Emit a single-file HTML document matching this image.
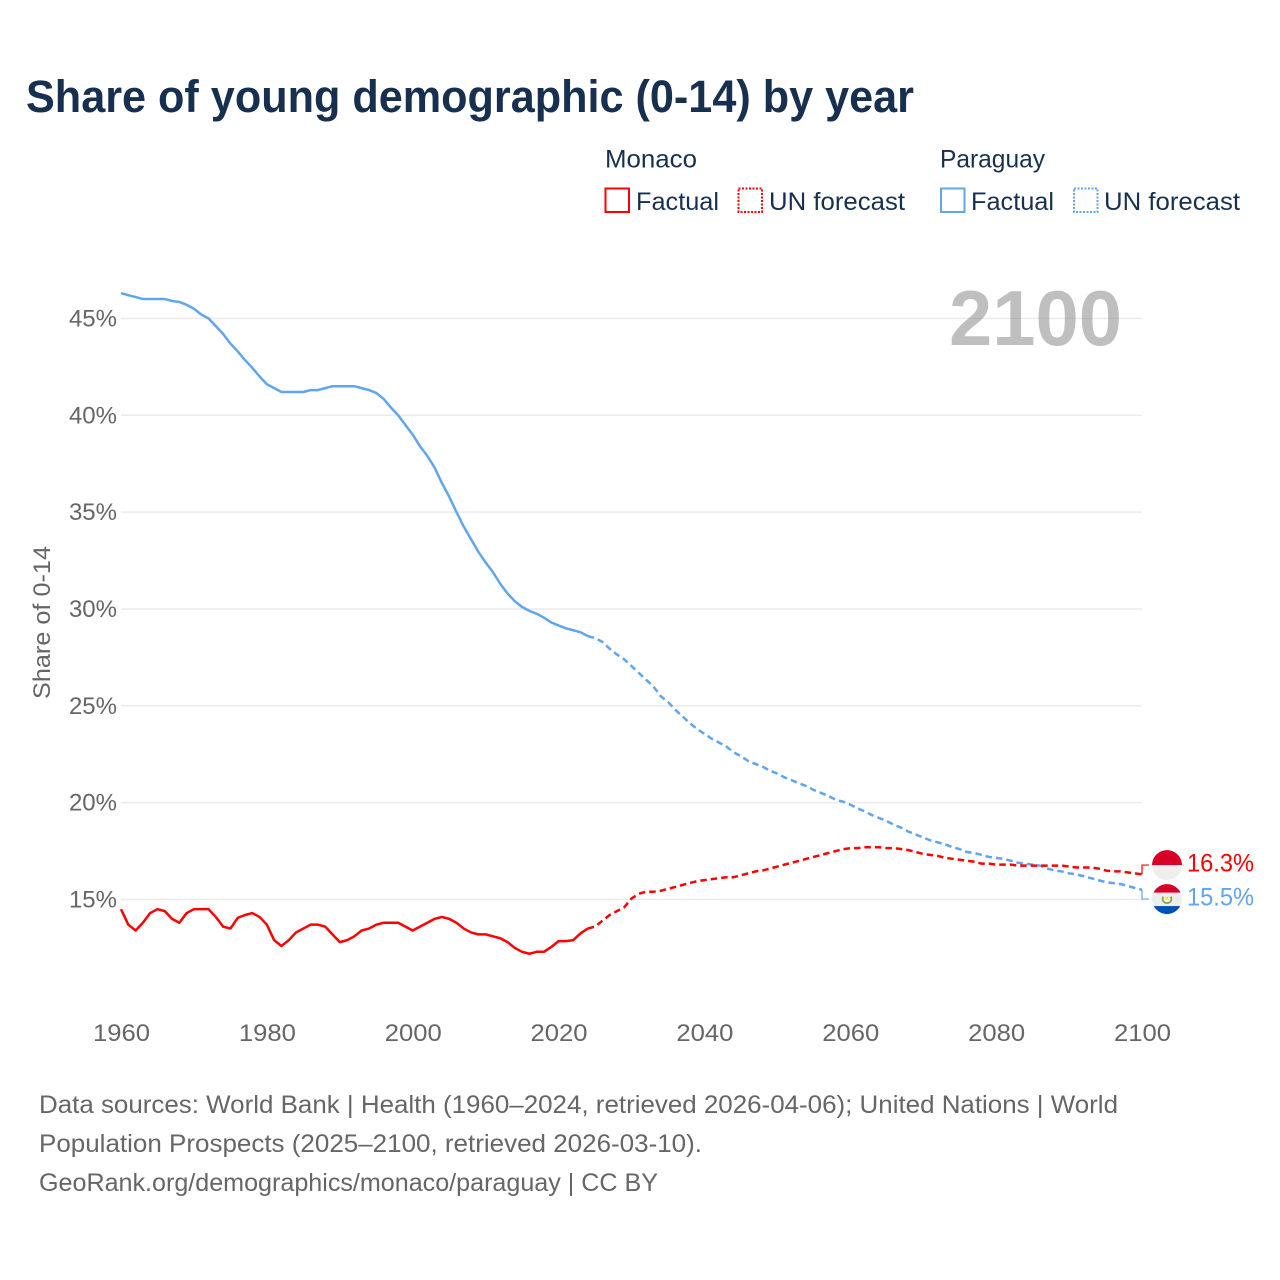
<!DOCTYPE html>
<html lang="en">
<head>
<meta charset="utf-8">
<title>Share of young demographic (0-14) by year</title>
<style>
  html, body { margin: 0; padding: 0; background: #fff; }
  svg { display: block; font-family: "Liberation Sans", sans-serif; }
</style>
</head>
<body>
<svg id="chart" xmlns="http://www.w3.org/2000/svg" width="1280" height="1280" viewBox="0 0 1280 1280">
  <rect x="0" y="0" width="1280" height="1280" fill="#ffffff"/>
  <text x="26" y="112" font-size="45" font-weight="700" fill="#18304f" textLength="888" lengthAdjust="spacingAndGlyphs">Share of young demographic (0-14) by year</text>

  <g font-size="25" fill="#18304f">
    <text x="605" y="167.5" textLength="92" lengthAdjust="spacingAndGlyphs">Monaco</text>
    <text x="940" y="167.5" textLength="105" lengthAdjust="spacingAndGlyphs">Paraguay</text>
    <rect x="605.5" y="188.5" width="23.5" height="23.5" fill="none" stroke="#ff0000" stroke-width="2"/>
    <text x="636" y="210" textLength="83" lengthAdjust="spacingAndGlyphs">Factual</text>
    <rect x="738.5" y="188.5" width="23.5" height="23.5" fill="none" stroke="#ff0000" stroke-width="2" stroke-dasharray="2 1.5"/>
    <text x="769" y="210" textLength="136" lengthAdjust="spacingAndGlyphs">UN forecast</text>
    <rect x="941" y="188.5" width="23.5" height="23.5" fill="none" stroke="#60a5ed" stroke-width="2"/>
    <text x="971" y="210" textLength="83" lengthAdjust="spacingAndGlyphs">Factual</text>
    <rect x="1074" y="188.5" width="23.5" height="23.5" fill="none" stroke="#60a5ed" stroke-width="2" stroke-dasharray="2 1.5"/>
    <text x="1104" y="210" textLength="136" lengthAdjust="spacingAndGlyphs">UN forecast</text>
  </g>

  <text transform="translate(50 622.5) rotate(-90)" text-anchor="middle" font-size="24" fill="#666666" textLength="153" lengthAdjust="spacingAndGlyphs">Share of 0-14</text>

  <g id="grid"></g>
  <g id="y-ticks"></g>
  <g id="x-ticks"></g>

  <text x="949" y="345" font-size="78" font-weight="700" fill="#808080" fill-opacity="0.5" textLength="173" lengthAdjust="spacingAndGlyphs">2100</text>

  <g id="series"></g>

  <defs>
    <clipPath id="clip-monaco"><circle cx="1167" cy="864" r="15"/></clipPath>
    <clipPath id="clip-paraguay"><circle cx="1167" cy="898" r="15"/></clipPath>
  </defs>
  <g id="flag-monaco">
    <g clip-path="url(#clip-monaco)">
      <rect x="1150" y="847" width="34" height="34" fill="#eeeeee"/>
      <rect x="1150" y="847" width="34" height="17" fill="#d80027"/>
    </g>
  </g>
  <g id="flag-paraguay">
    <g clip-path="url(#clip-paraguay)">
      <rect x="1150" y="881" width="34" height="34" fill="#eeeeee"/>
      <rect x="1150" y="881" width="34" height="10.5" fill="#d80027"/>
      <rect x="1150" y="905" width="34" height="10" fill="#0052b4"/>
      <path d="M1163.2 895.5 A4.4 4.4 0 1 0 1170.8 895.5" fill="none" stroke="#8aa84a" stroke-width="1.8"/>
      <circle cx="1167" cy="897" r="1.6" fill="#ffda44"/>
    </g>
  </g>
  <g id="end-labels"></g>

  <g font-size="25" fill="#666666">
    <text x="39" y="1113" textLength="1079" lengthAdjust="spacingAndGlyphs">Data sources: World Bank | Health (1960–2024, retrieved 2026-04-06); United Nations | World</text>
    <text x="39" y="1152" textLength="663" lengthAdjust="spacingAndGlyphs">Population Prospects (2025–2100, retrieved 2026-03-10).</text>
    <text x="39" y="1191" textLength="619" lengthAdjust="spacingAndGlyphs">GeoRank.org/demographics/monaco/paraguay | CC BY</text>
  </g>
</svg>

<script>
const firstYear = 1960;
const lastFactualYear = 2024;
const xTickYears = [1960, 1980, 2000, 2020, 2040, 2060, 2080, 2100];
const yTickValues = [15, 20, 25, 30, 35, 40, 45];
const monacoValues = [
  14.5,13.7,13.4,13.8,14.3,14.5,14.4,14.0,13.8,14.3,
  14.5,14.5,14.5,14.1,13.6,13.5,14.05,14.2,14.3,14.1,
  13.7,12.9,12.6,12.9,13.3,13.5,13.7,13.7,13.6,13.2,
  12.8,12.9,13.1,13.4,13.5,13.7,13.8,13.8,13.8,13.6,
  13.4,13.6,13.8,14.0,14.1,14.0,13.8,13.5,13.3,13.2,
  13.2,13.1,13.0,12.8,12.5,12.3,12.2,12.3,12.3,12.55,
  12.85,12.85,12.9,13.25,13.5,13.6,13.9,14.2,14.4,14.6,
  15.05,15.3,15.4,15.4,15.45,15.55,15.65,15.75,15.85,15.95,
  16.0,16.05,16.1,16.15,16.15,16.25,16.35,16.45,16.5,16.6,
  16.7,16.8,16.9,17.0,17.1,17.2,17.3,17.4,17.5,17.6,
  17.65,17.65,17.7,17.7,17.7,17.65,17.65,17.6,17.55,17.45,
  17.35,17.3,17.25,17.15,17.1,17.05,17.0,16.95,16.85,16.85,
  16.8,16.8,16.8,16.75,16.75,16.75,16.75,16.75,16.75,16.75,
  16.7,16.65,16.65,16.65,16.6,16.5,16.45,16.45,16.4,16.35,
  16.3
];
const paraguayValues = [
  46.3,46.2,46.1,46.0,46.0,46.0,46.0,45.9,45.85,45.7,
  45.5,45.2,45.0,44.6,44.2,43.7,43.3,42.85,42.45,42.0,
  41.6,41.4,41.2,41.2,41.2,41.2,41.3,41.3,41.4,41.5,
  41.5,41.5,41.5,41.4,41.3,41.15,40.85,40.4,40.0,39.5,
  39.0,38.4,37.9,37.3,36.5,35.8,35.0,34.25,33.6,32.95,
  32.4,31.9,31.3,30.8,30.4,30.1,29.9,29.75,29.55,29.3,
  29.15,29.0,28.9,28.8,28.6,28.5,28.3,27.95,27.65,27.4,
  27.05,26.7,26.35,26.0,25.5,25.2,24.8,24.45,24.1,23.8,
  23.55,23.3,23.1,22.9,22.6,22.4,22.15,22.0,21.85,21.65,
  21.5,21.3,21.15,21.0,20.85,20.65,20.5,20.35,20.15,20.05,
  19.9,19.7,19.55,19.35,19.2,19.05,18.85,18.7,18.5,18.35,
  18.2,18.05,17.95,17.85,17.7,17.6,17.45,17.4,17.3,17.2,
  17.15,17.1,17.0,16.9,16.85,16.8,16.75,16.6,16.5,16.45,
  16.35,16.3,16.2,16.1,16.0,15.9,15.85,15.8,15.7,15.6,
  15.5
];

const SVG_NS = 'http://www.w3.org/2000/svg';
const RED = '#ff0000';
const BLUE = '#60a5ed';
const GREY = '#666666';

function xScale(year) { return 121 + (year - 1960) * (1021 / 140); }
function yScale(value) { return 899.5 - (value - 15) * 19.37; }

function make(tag, parent, attrs) {
  const el = document.createElementNS(SVG_NS, tag);
  for (const key in attrs) { el.setAttribute(key, attrs[key]); }
  parent.appendChild(el);
  return el;
}

const gridGroup = document.getElementById('grid');
const yTickGroup = document.getElementById('y-ticks');
const xTickGroup = document.getElementById('x-ticks');
const seriesGroup = document.getElementById('series');
const labelGroup = document.getElementById('end-labels');

yTickValues.forEach(function (value) {
  const line = make('line', gridGroup, { x1: 121, x2: 1142, y1: yScale(value), y2: yScale(value), stroke: '#ebebeb', 'stroke-width': 1.5 });
  
  
  const label = make('text', yTickGroup, { x: 117, y: yScale(value) + 8, 'text-anchor': 'end', 'font-size': 24, fill: GREY });
  label.textContent = value + '%';
  
  
});

xTickYears.forEach(function (year) {
  const label = make('text', xTickGroup, { x: xScale(year) + 0.5, y: 1041, 'text-anchor': 'middle', 'font-size': 24, fill: GREY, textLength: 57, lengthAdjust: 'spacingAndGlyphs' });
  label.textContent = String(year);
  
  
});

function pathFor(values, fromYear, toYear) {
  const parts = [];
  values.forEach(function (value, i) {
    const year = firstYear + i;
    if (year >= fromYear && year <= toYear) {
      parts.push((parts.length ? 'L' : 'M') + xScale(year).toFixed(2) + ' ' + yScale(value).toFixed(2));
    }
  });
  return parts.join(' ');
}

function drawSeries(values, color, key) {
  const endYear = firstYear + values.length - 1;
  const solid = make('path', seriesGroup, { d: pathFor(values, firstYear, lastFactualYear), fill: 'none', stroke: color, 'stroke-width': 2.5, 'stroke-linejoin': 'round' });
  
  
  const dashed = make('path', seriesGroup, { d: pathFor(values, lastFactualYear, endYear), fill: 'none', stroke: color, 'stroke-width': 2.5, 'stroke-dasharray': '6.5 4', 'stroke-linejoin': 'round' });
  
  
}
drawSeries(paraguayValues, BLUE, 'paraguay');
drawSeries(monacoValues, RED, 'monaco');

const monacoEnd = monacoValues[monacoValues.length - 1];
const paraguayEnd = paraguayValues[paraguayValues.length - 1];
const monacoY = yScale(monacoEnd);
const paraguayY = yScale(paraguayEnd);
const midY = (monacoY + paraguayY) / 2;
const gap = 17;
const monacoLabelY = monacoY <= paraguayY ? Math.min(monacoY, midY - gap) : Math.max(monacoY, midY + gap);
const paraguayLabelY = monacoY <= paraguayY ? Math.max(paraguayY, midY + gap) : Math.min(paraguayY, midY - gap);

function drawEnd(endY, labelY, value, color, key) {
  const connector = make('path', labelGroup, { d: 'M1142 ' + endY + ' V' + labelY + ' H1149', fill: 'none', stroke: color, 'stroke-width': 1.2 });
  
  
  const label = make('text', labelGroup, { x: 1187, y: labelY + 6.5, 'font-size': 25, fill: color, textLength: 67, lengthAdjust: 'spacingAndGlyphs' });
  label.textContent = value.toFixed(1) + '%';
  
  
}
drawEnd(monacoY, monacoLabelY, monacoEnd, RED, 'monaco');
drawEnd(paraguayY, paraguayLabelY, paraguayEnd, BLUE, 'paraguay');

document.getElementById('flag-monaco').setAttribute('transform', 'translate(0 ' + (monacoLabelY - 864) + ')');
document.getElementById('flag-paraguay').setAttribute('transform', 'translate(0 ' + (paraguayLabelY - 898) + ')');
</script>
</body>
</html>
